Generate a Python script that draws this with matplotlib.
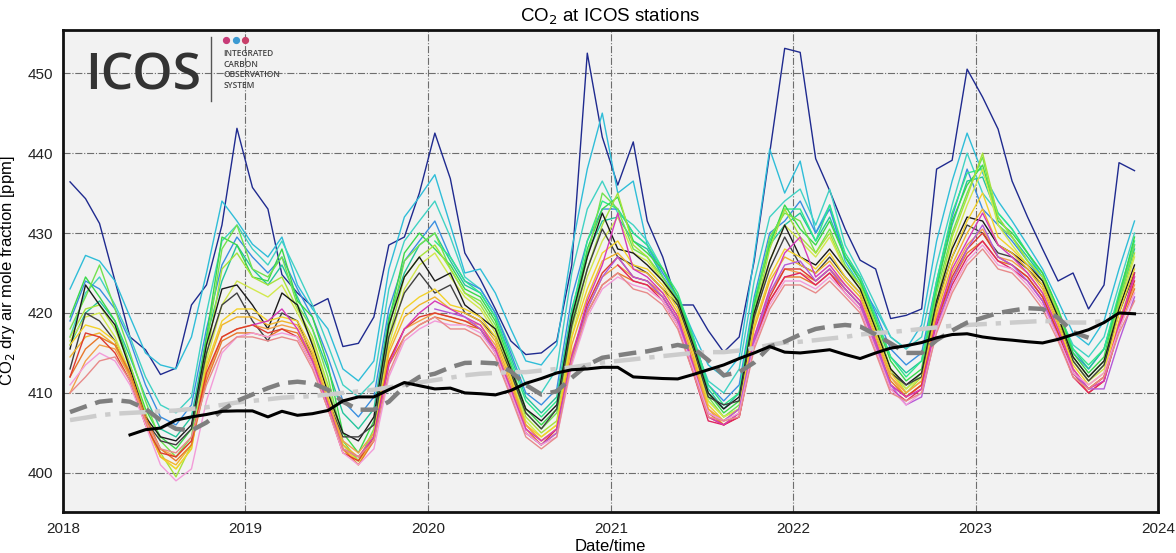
import numpy as np
import matplotlib
matplotlib.use("Agg")
import matplotlib.pyplot as plt
import matplotlib.dates as mdates

# monthly means, Jan 2018 .. Nov 2023 (mid-month)
months = np.arange('2018-01', '2023-12', dtype='datetime64[M]').astype('datetime64[D]') + np.timedelta64(14, 'D')

# station series (ppm); first value belongs to the month given in station_start
navy = [436.4, 434.3, 431.2, 424.0, 417.0, 415.4, 412.3, 413.1, 421.0, 423.5, 431.0, 443.1,
        435.7, 433.0, 424.8, 422.5, 420.8, 421.8, 415.8, 416.2, 419.5, 428.5, 429.5, 435.0,
        442.5, 436.8, 427.5, 424.2, 420.5, 416.5, 414.8, 415.0, 416.5, 426.0, 452.5, 442.0,
        436.0, 441.4, 431.5, 427.0, 421.0, 421.0, 417.8, 415.1, 417.0, 426.5, 440.0, 453.1,
        452.6, 439.3, 435.3, 430.5, 426.6, 425.5, 419.3, 419.7, 420.5, 438.0, 439.1, 450.5,
        447.0, 443.0, 436.5, 432.0, 428.0, 424.0, 425.0, 420.5, 423.5, 438.8, 437.8]
cyan_a = [423.0, 427.2, 426.5, 424.0, 419.5, 415.0, 413.5, 413.0, 417.0, 425.0, 434.0, 431.5,
          428.6, 427.0, 429.5, 423.5, 420.5, 418.0, 413.0, 411.5, 414.0, 425.5, 432.0, 434.5,
          437.3, 431.0, 425.0, 425.5, 422.5, 418.0, 414.0, 413.5, 416.0, 428.0, 438.0, 445.0,
          435.0, 436.5, 428.5, 424.5, 422.0, 417.5, 413.5, 412.0, 414.5, 427.0, 440.5, 435.0,
          439.0, 430.0, 433.5, 426.5, 423.5, 420.5, 417.0, 415.5, 418.5, 429.0, 436.5, 442.5,
          437.5, 434.0, 431.5, 428.5, 425.5, 421.5, 417.5, 416.0, 419.0, 425.5, 431.5]
cyan_b = [417.0, 422.5, 424.5, 421.0, 417.0, 412.0, 408.5, 407.5, 409.5, 420.0, 429.0, 431.0,
          428.0, 426.0, 429.0, 425.0, 421.0, 416.0, 411.0, 409.5, 411.5, 423.0, 429.0, 431.5,
          434.0, 429.5, 424.5, 423.0, 420.0, 415.5, 411.0, 410.0, 413.0, 425.0, 433.0, 436.5,
          432.5, 431.0, 429.0, 425.5, 421.5, 416.5, 411.5, 410.0, 413.0, 424.0, 432.0, 434.0,
          435.5, 431.0, 435.5, 428.5, 425.0, 421.0, 417.0, 415.5, 417.0, 426.0, 433.5, 440.0,
          435.0, 432.5, 430.5, 427.5, 424.5, 420.0, 416.0, 414.5, 417.0, 423.5, 430.0]
blue = [419.0, 424.0, 423.0, 420.5, 416.5, 411.0, 407.0, 406.0, 408.5, 418.0, 426.0, 429.5,
        427.0, 425.0, 427.0, 423.0, 419.5, 414.5, 409.0, 407.0, 409.5, 420.5, 426.5, 429.0,
        431.5, 427.0, 424.0, 423.0, 420.0, 415.0, 410.0, 408.5, 410.5, 422.0, 429.0, 433.0,
        433.0, 430.0, 428.5, 425.0, 422.0, 417.0, 411.0, 409.0, 411.0, 422.0, 430.0, 431.5,
        434.0, 430.0, 433.0, 427.0, 424.5, 420.0, 415.5, 413.5, 415.0, 424.0, 432.0, 438.0,
        433.0, 431.0, 429.0, 426.5, 424.0, 419.5, 415.0, 413.0, 415.5, 422.0, 428.5]
teal = [416.0, 420.0, 421.5, 419.0, 414.5, 409.5, 405.5, 404.5, 407.0, 417.0, 424.0, 428.5,
        425.5, 423.5, 426.0, 422.0, 418.0, 413.0, 407.5, 405.5, 408.0, 419.5, 425.0, 428.5,
        430.0, 426.5, 423.5, 422.5, 419.5, 414.5, 409.5, 407.5, 409.5, 420.5, 427.5, 431.5,
        432.0, 429.0, 428.0, 424.5, 421.5, 416.5, 410.5, 408.0, 410.0, 421.0, 428.5, 431.0,
        432.5, 429.0, 432.0, 427.0, 424.0, 419.5, 414.5, 412.5, 414.0, 423.5, 431.0, 436.5,
        437.0, 432.0, 429.5, 427.0, 424.5, 420.0, 415.5, 413.0, 415.5, 421.5, 428.0]
spring = [429.0, 427.0, 424.0, 422.5, 419.5, 414.0, 409.0, 407.0, 409.0, 420.0, 429.0, 434.0,
          433.0, 430.0, 428.5, 425.5, 422.5, 417.0, 411.0, 408.5, 410.0, 421.5, 429.0, 433.0,
          433.0, 429.0, 433.5, 427.5, 424.5, 419.5, 414.5, 412.0, 414.0, 424.0, 432.5, 437.5,
          438.0, 432.5, 430.5, 427.5, 425.0, 420.5, 415.5, 413.5, 415.5, 422.5, 429.0]
green1 = [419.5, 424.5, 422.0, 419.0, 413.5, 408.0, 404.5, 403.0, 405.5, 417.0, 429.5, 428.5,
          424.5, 424.0, 428.0, 421.5, 419.5, 413.5, 405.0, 402.5, 406.5, 419.0, 427.5, 430.0,
          428.0, 426.0, 423.0, 422.0, 419.0, 413.5, 408.0, 406.0, 408.0, 419.0, 428.0, 433.0,
          434.5, 429.0, 427.5, 425.5, 422.0, 416.5, 410.0, 407.5, 409.0, 421.0, 428.5, 433.5,
          430.5, 428.5, 431.5, 427.0, 424.0, 419.0, 414.0, 411.5, 413.0, 423.0, 431.5, 436.0,
          438.5, 431.5, 430.0, 427.5, 425.0, 420.5, 415.0, 412.5, 414.5, 422.0, 429.5]
green2 = [418.0, 422.0, 426.0, 420.5, 415.0, 409.0, 404.0, 402.0, 404.5, 416.0, 428.0, 431.0,
          425.5, 424.5, 427.0, 421.0, 418.0, 412.0, 404.0, 401.5, 405.5, 418.0, 426.5, 428.5,
          430.0, 425.5, 422.5, 421.5, 418.5, 413.0, 407.5, 405.5, 407.5, 418.5, 427.0, 435.0,
          433.0, 428.0, 427.0, 424.5, 421.5, 416.0, 409.5, 407.0, 408.5, 420.0, 429.5, 432.5,
          431.5, 427.5, 430.5, 426.0, 423.5, 418.5, 413.0, 410.5, 412.5, 422.5, 430.0, 435.0,
          439.5, 431.0, 429.5, 426.5, 424.5, 420.0, 414.5, 412.0, 414.0, 421.5, 428.5]
lime = [417.0, 420.5, 421.0, 418.0, 413.5, 407.5, 402.5, 399.5, 403.5, 414.5, 425.5, 427.5,
        424.5, 423.5, 424.5, 420.5, 417.0, 411.0, 403.5, 401.5, 405.0, 417.0, 424.5, 427.0,
        428.5, 425.5, 422.5, 421.0, 418.0, 412.5, 407.0, 405.0, 406.5, 418.0, 425.5, 431.0,
        435.0, 428.5, 427.0, 424.0, 421.0, 415.5, 409.0, 407.0, 408.0, 419.5, 428.0, 433.0,
        429.5, 427.5, 430.0, 425.5, 423.5, 418.5, 413.0, 410.0, 412.0, 421.5, 429.5, 434.5,
        440.0, 432.0, 429.5, 426.5, 424.5, 420.0, 414.0, 411.5, 413.5, 421.0, 427.5]
yellowgreen = [416.5, 419.5, 420.0, 417.0, 412.5, 406.5, 402.0, 400.5, 403.0, 414.0, 421.0, 424.0,
               423.0, 422.0, 423.5, 420.0, 416.5, 410.5, 403.0, 401.0, 404.5, 416.0, 423.0, 426.0,
               427.5, 424.5, 422.0, 420.5, 417.5, 412.0, 406.5, 404.5, 406.0, 417.0, 424.5, 429.0,
               432.0, 427.5, 426.5, 424.0, 421.0, 415.5, 409.0, 407.0, 408.0, 419.0, 426.5, 431.0,
               429.0, 427.0, 429.5, 425.5, 423.0, 418.0, 413.0, 410.5, 412.0, 421.0, 428.5, 433.5,
               438.0, 431.0, 428.5, 426.0, 424.0, 419.5, 414.0, 411.5, 413.0, 420.5, 427.0]
black1 = [415.5, 423.5, 421.0, 418.5, 413.0, 407.0, 404.5, 404.0, 406.0, 416.0, 423.0, 423.5,
          421.0, 418.0, 422.5, 421.0, 416.0, 410.0, 405.0, 404.0, 407.0, 418.5, 424.5, 427.0,
          424.0, 425.0, 421.0, 419.5, 418.0, 413.0, 408.0, 406.5, 408.5, 419.5, 427.0, 432.5,
          428.0, 427.5, 426.0, 424.0, 421.5, 416.0, 410.0, 408.0, 409.5, 420.0, 426.5, 431.0,
          427.0, 426.0, 428.0, 425.5, 423.0, 418.0, 413.0, 411.0, 412.5, 421.5, 428.0, 432.0,
          431.5, 428.5, 427.5, 426.0, 424.0, 419.5, 414.5, 412.0, 414.0, 420.5, 426.0]
black2 = [413.0, 420.0, 419.0, 416.5, 412.0, 406.5, 404.0, 403.5, 405.5, 415.0, 421.0, 422.5,
          419.0, 416.5, 420.0, 419.0, 414.5, 409.0, 404.5, 404.5, 406.0, 417.0, 422.5, 425.0,
          422.5, 423.5, 420.0, 419.0, 417.0, 412.5, 407.5, 405.5, 408.0, 418.5, 425.5, 430.5,
          427.0, 426.0, 425.0, 423.0, 421.0, 415.5, 409.5, 408.5, 409.0, 419.5, 425.5, 429.5,
          426.0, 425.0, 427.0, 424.5, 422.5, 417.5, 412.5, 411.0, 412.0, 421.0, 427.0, 431.0,
          430.0, 427.5, 427.0, 425.5, 423.5, 419.0, 414.0, 411.5, 413.5, 420.0, 425.0]
yellow = [416.0, 418.5, 418.0, 416.5, 412.5, 406.5, 402.0, 400.5, 403.0, 413.5, 419.0, 420.5,
          420.5, 419.0, 419.5, 419.0, 415.5, 409.5, 403.0, 401.5, 404.0, 415.5, 420.5, 422.0,
          423.0, 421.0, 420.5, 419.5, 417.0, 412.0, 406.0, 404.5, 406.0, 417.0, 423.0, 427.5,
          429.0, 426.0, 425.5, 423.5, 420.5, 415.0, 408.5, 406.5, 408.0, 418.5, 424.5, 428.0,
          427.0, 425.5, 427.5, 424.5, 422.5, 417.5, 412.5, 410.0, 411.5, 420.5, 427.0, 431.5,
          435.0, 429.5, 428.0, 426.0, 423.5, 419.0, 413.5, 411.0, 412.5, 420.0, 425.5]
gold = [414.5, 417.0, 417.5, 416.0, 412.0, 406.0, 402.0, 401.0, 403.5, 413.0, 418.5, 419.5,
        419.5, 418.5, 419.0, 418.5, 415.0, 409.0, 403.5, 402.0, 404.5, 415.0, 419.5, 421.0,
        422.0, 420.5, 420.0, 419.0, 416.5, 411.5, 406.0, 404.0, 405.5, 416.0, 422.0, 426.5,
        427.5, 425.5, 425.0, 423.0, 420.0, 414.5, 408.0, 406.0, 407.5, 418.0, 424.0, 427.0,
        426.0, 425.0, 426.5, 424.0, 422.0, 417.0, 412.0, 409.5, 411.0, 420.0, 426.0, 430.0,
        433.0, 428.5, 427.5, 425.5, 423.0, 418.5, 413.0, 410.5, 412.0, 419.0, 424.5]
orange = [410.0, 414.0, 416.0, 415.5, 412.0, 406.5, 403.0, 402.0, 404.0, 412.0, 417.0, 418.0,
          418.5, 418.0, 418.5, 418.0, 414.5, 409.0, 404.0, 402.5, 405.0, 414.0, 418.0, 419.0,
          420.0, 419.5, 419.0, 418.5, 416.0, 411.0, 406.0, 404.0, 405.5, 415.0, 420.5, 424.5,
          426.0, 424.5, 424.0, 422.5, 419.5, 414.0, 408.0, 406.5, 408.0, 417.0, 422.5, 425.5,
          425.0, 424.0, 425.5, 423.5, 421.5, 416.5, 412.0, 410.0, 411.5, 419.5, 425.0, 428.5,
          430.5, 427.0, 426.5, 425.0, 422.5, 418.0, 413.0, 410.5, 412.0, 418.5, 423.5]
darkorange = [412.0, 415.5, 417.0, 416.0, 412.5, 407.0, 403.0, 401.5, 403.5, 411.5, 416.5, 417.5,
              417.5, 417.0, 418.0, 417.5, 414.0, 408.5, 403.0, 401.0, 404.0, 413.5, 417.0, 418.5,
              419.5, 419.0, 418.5, 418.0, 415.5, 410.5, 405.5, 403.5, 405.0, 414.5, 420.0, 423.5,
              425.0, 424.0, 423.5, 422.0, 419.0, 413.5, 407.5, 406.0, 407.5, 416.5, 421.5, 424.5,
              424.5, 423.5, 425.0, 423.0, 421.0, 416.0, 411.5, 409.5, 411.0, 419.0, 424.0, 427.5,
              429.0, 426.5, 426.0, 424.5, 422.0, 417.5, 412.5, 410.0, 411.5, 418.0, 423.0]
red = [412.0, 417.5, 417.0, 415.0, 411.5, 406.0, 402.5, 402.0, 404.0, 412.5, 417.0, 418.0,
       418.5, 417.5, 418.0, 417.0, 413.5, 408.0, 402.5, 401.5, 404.5, 414.0, 418.0, 419.5,
       420.0, 419.5, 419.0, 418.0, 415.0, 410.0, 405.0, 403.5, 405.5, 414.5, 421.0, 425.0,
       427.0, 424.5, 424.0, 422.0, 419.0, 413.0, 407.0, 406.0, 407.0, 416.5, 422.0, 425.5,
       425.5, 424.0, 425.5, 423.0, 421.0, 416.0, 411.0, 409.5, 411.0, 419.0, 424.5, 428.0,
       430.0, 427.0, 426.0, 424.5, 422.0, 417.5, 412.5, 410.5, 412.0, 418.5, 424.0]
crimson = [426.0, 424.0, 423.5, 421.5, 418.5, 412.5, 406.5, 406.0, 407.0, 416.0, 421.5, 424.5,
           425.0, 423.5, 425.0, 422.5, 420.5, 415.5, 410.5, 409.0, 410.5, 418.5, 423.5, 427.0,
           429.0, 426.5, 425.5, 424.0, 421.5, 417.0, 412.0, 410.0, 411.5, 418.0, 425.0]
magenta = [418.5, 419.0, 420.5, 418.0, 414.0, 408.5, 403.0, 402.0, 404.5, 413.5, 418.0, 420.0,
           421.5, 420.5, 419.5, 418.5, 415.5, 410.5, 405.5, 404.0, 405.5, 414.5, 421.5, 426.0,
           432.5, 425.5, 424.5, 422.5, 419.5, 413.5, 407.0, 406.0, 407.5, 417.0, 423.0, 427.5,
           429.5, 424.5, 426.0, 423.5, 421.5, 416.5, 411.0, 409.5, 410.5, 419.0, 425.5, 429.0,
           432.5, 428.5, 427.0, 425.0, 422.5, 418.0, 413.0, 410.5, 411.5, 418.5, 424.5]
violet = [420.5, 420.0, 419.5, 418.0, 415.0, 410.0, 405.0, 403.5, 405.0, 414.0, 420.5, 424.5,
          427.0, 424.5, 424.0, 422.0, 419.0, 413.0, 407.5, 406.5, 408.0, 416.5, 422.5, 426.0,
          426.5, 424.0, 425.5, 423.0, 421.0, 416.0, 411.0, 408.5, 409.5, 418.0, 424.0, 428.0,
          431.0, 427.0, 426.0, 424.0, 421.5, 417.0, 412.5, 410.5, 410.5, 416.5, 422.0]
pink = [411.0, 413.5, 415.0, 414.0, 411.0, 406.0, 401.0, 399.0, 400.5, 409.0, 415.0, 417.0,
        417.5, 417.0, 417.5, 417.0, 413.5, 408.0, 402.5, 401.0, 403.0, 412.0, 416.5, 418.0,
        419.0, 418.5, 418.5, 417.5, 415.0, 410.0, 405.0, 403.5, 404.5, 413.5, 419.5, 423.0,
        424.5, 423.5, 423.0, 421.5, 418.5, 413.0, 407.5, 406.5, 407.5, 416.0, 421.0, 424.0,
        424.0, 423.0, 424.5, 422.5, 420.5, 415.5, 410.5, 408.5, 410.0, 418.0, 423.0, 426.5,
        428.5, 426.0, 425.5, 423.5, 421.0, 417.0, 412.5, 411.0, 412.5, 418.0, 422.5]
salmon = [410.0, 412.0, 414.0, 414.5, 411.5, 406.5, 403.0, 402.5, 404.5, 411.0, 415.5, 417.0,
          417.0, 416.5, 417.0, 416.5, 413.0, 408.0, 403.0, 402.0, 404.0, 412.5, 417.0, 418.5,
          419.5, 418.0, 418.0, 417.0, 414.5, 409.5, 404.5, 403.0, 404.5, 414.0, 420.0, 423.5,
          425.0, 423.0, 422.5, 421.0, 418.0, 412.5, 407.0, 406.5, 407.0, 415.5, 420.5, 423.5,
          423.5, 422.5, 424.0, 422.0, 420.0, 415.0, 410.0, 409.0, 410.0, 417.5, 422.5, 426.0,
          428.0, 425.5, 425.0, 423.0, 420.5, 416.5, 412.0, 410.5, 412.0, 417.5, 421.5]

# reference curves
ref_black = [404.75, 405.4, 405.6, 406.6, 407.0, 407.3, 407.7, 407.75,
             407.75, 407.0, 407.7, 407.2, 407.4, 407.8, 409.0, 409.5, 409.5, 410.4, 411.3, 410.9,
             410.5, 410.6, 410.0, 409.9, 409.75, 410.3, 411.2, 411.8, 412.5, 412.9, 413.0, 413.2,
             413.2, 412.0, 411.9, 411.8, 411.75, 412.3, 412.9, 413.5, 414.3, 415.0, 415.8, 415.1,
             415.0, 415.2, 415.4, 414.8, 414.3, 415.0, 415.6, 415.9, 416.3, 416.9, 417.3, 417.4,
             417.0, 416.75, 416.6, 416.4, 416.25, 416.7, 417.3, 417.9, 418.8, 420.0, 419.9]
ref_black_start = 4
ref_dash = [407.6, 408.3, 408.9, 409.1, 408.9, 408.0, 406.6, 405.5, 405.3, 406.3, 407.8, 409.0,
            409.8, 410.6, 411.2, 411.4, 411.2, 410.4, 408.9, 407.9, 407.9, 408.9, 410.8, 412.0,
            412.4, 413.2, 413.75, 413.8, 413.7, 412.7, 411.0, 409.8, 410.2, 411.9, 413.5, 414.4,
            414.7, 415.0, 415.2, 415.6, 416.0, 415.6, 414.1, 412.2, 412.6, 413.8, 415.8, 416.4,
            417.3, 418.0, 418.3, 418.5, 418.3, 417.3, 416.2, 415.0, 415.0, 416.6, 417.8, 418.8,
            419.4, 420.0, 420.3, 420.6, 420.5, 419.4, 417.6, 416.9]
ref_dashdot = [406.6, 406.9, 407.2, 407.4, 407.5, 407.6, 407.7, 407.8, 408.0, 408.2, 408.5, 408.8,
               409.0, 409.2, 409.4, 409.5, 409.6, 409.8, 410.0, 410.2, 410.4, 410.7, 411.0, 411.3,
               411.6, 411.9, 412.2, 412.4, 412.5, 412.6, 412.6, 412.8, 413.0, 413.2, 413.5, 413.8,
               414.0, 414.2, 414.4, 414.6, 414.8, 415.0, 415.1, 415.1, 415.3, 415.6, 416.0, 416.3,
               416.4, 416.6, 416.8, 417.0, 417.3, 417.5, 417.6, 417.8, 418.0, 418.2, 418.4, 418.5,
               418.6, 418.7, 418.8, 418.9, 419.0, 418.9, 418.8, 418.8, 419.0]

station_series = [navy, cyan_a, cyan_b, blue, teal, spring, green1, green2, lime, yellowgreen,
                  black1, black2, yellow, gold, orange, darkorange, red, crimson, magenta,
                  violet, pink, salmon]
station_start = [0, 0, 0, 0, 0, 24, 0, 0, 0, 0,
                 0, 0, 0, 0, 0, 0, 0, 36, 12,
                 24, 0, 0]
station_colors = ['#1f2a8f', '#2fbdd8', '#40d2c4', '#3a8fe0', '#24c49c', '#2ee88a', '#3ad84a',
                  '#72e24e', '#a6e23a', '#d2e84c', '#1a1a1a', '#404040', '#f2d22a', '#f0b42a',
                  '#f2a048', '#e8782a', '#dd3b2f', '#e0265e', '#d63ab8', '#b45ad8', '#f39bd9',
                  '#e88a8a']

plt.rcParams['font.family'] = ['Liberation Sans', 'DejaVu Sans']

fig = plt.figure(figsize=(11.76, 5.53), dpi=100)
ax = fig.add_axes([0.0536, 0.0741, 0.9311, 0.8717])
ax.set_facecolor('#f2f2f2')

for vals, start, col in zip(station_series, station_start, station_colors):
    ax.plot(months[start:start + len(vals)], vals, color=col, lw=1.0, zorder=2)

ax.plot(months[:len(ref_dashdot)], ref_dashdot, color='#cccccc', lw=3.2,
        linestyle=(0, (6, 2, 1.2, 2)), zorder=3)
ax.plot(months[:len(ref_dash)], ref_dash, color='#7f7f7f', lw=3.2,
        linestyle=(0, (4, 2)), zorder=3)
ax.plot(months[ref_black_start:ref_black_start + len(ref_black)], ref_black,
        color='black', lw=2.2, zorder=4)

ax.set_xlim(np.datetime64('2018-01-01'), np.datetime64('2024-01-01'))
ax.set_ylim(395.1, 455.4)
ax.set_yticks([400, 410, 420, 430, 440, 450])
ax.xaxis.set_major_locator(mdates.YearLocator())
ax.xaxis.set_major_formatter(mdates.DateFormatter('%Y'))
ax.tick_params(length=0, labelsize=11, pad=7, colors='#222222')
ax.grid(True, color='#6e6e6e', lw=0.8, linestyle='-.')
for sp in ax.spines.values():
    sp.set_linewidth(2.0)
    sp.set_color('#111111')

ax.set_title('CO$_2$ at ICOS stations', fontsize=13.5, pad=6)
ax.set_ylabel('CO$_2$ dry air mole fraction [ppm]', fontsize=12, labelpad=8)
ax.set_xlabel('Date/time', fontsize=12, labelpad=2)

# ICOS logo
ax.text(0.0205, 0.877, 'ICOS', transform=ax.transAxes, fontsize=37,
        family=['Open Sans', 'DejaVu Sans'], weight='semibold', color='#333333', zorder=6)
ax.plot([0.1349, 0.1349], [0.853, 0.986], transform=ax.transAxes, color='#555555', lw=1.0, zorder=6)
for xd, cd in zip([0.1489, 0.1577, 0.1662], ['#c83c78', '#3c9ad2', '#c8406a']):
    ax.plot(xd, 0.979, 'o', ms=4.2, color=cd, transform=ax.transAxes, zorder=6)
for i, word in enumerate(['INTEGRATED', 'CARBON', 'OBSERVATION', 'SYSTEM']):
    ax.text(0.1467, 0.951 - i * 0.0222, word, transform=ax.transAxes, fontsize=6.0,
            family=['Open Sans', 'DejaVu Sans'], weight='semibold', color='#444444',
            va='center', zorder=6)

fig.savefig('out.png', dpi=100)
